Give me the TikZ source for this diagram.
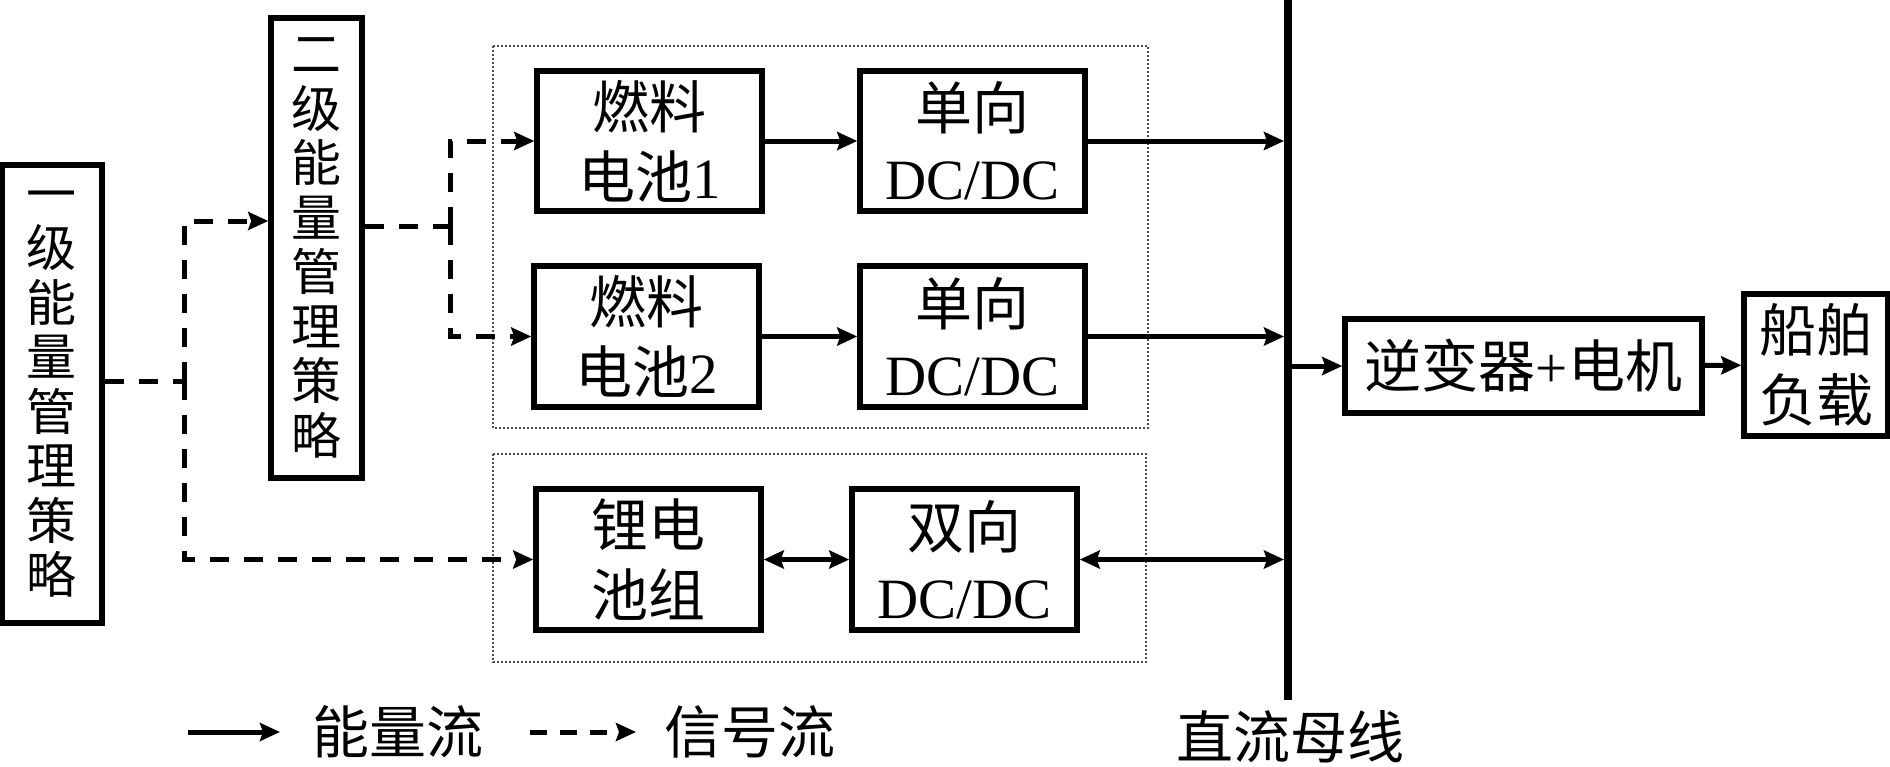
\documentclass[tikz,border=0pt]{standalone}
\usepackage{fontspec}
\setmainfont{Liberation Serif}
\newfontfamily\cjk{Noto Sans CJK SC}
\usetikzlibrary{arrows.meta,calc}
\begin{document}
\begin{tikzpicture}[x=1pt,y=-1pt,
  tipA/.tip={Stealth[length=20pt,width=18pt,inset=3pt]},
  box/.style={draw,line width=5.5pt,inner sep=0pt,align=center,font=\fontsize{57}{70}\selectfont},
  vbox/.style={draw,line width=5.5pt,inner sep=0pt,align=center,font=\fontsize{50}{54.5}\selectfont\cjk},
  grp/.style={draw=black!70,line width=2pt,dotted},
  pw/.style={line width=5pt,-tipA},
  pwb/.style={line width=5pt,tipA-tipA},
  sig/.style={line width=5pt,dash pattern=on 19pt off 15pt},
  sigA/.style={sig,-tipA},
  lbl/.style={inner sep=0pt,font=\fontsize{57}{69}\selectfont\cjk}]
\useasboundingbox (0,0) rectangle (1890,766);
% groups
\draw[grp] (493,46) rectangle (1148,428);
\draw[grp] (493,454) rectangle (1146,662);
% boxes
\node[vbox,minimum width=100pt,minimum height=458pt] (l1) at (52,394) {一\\级\\能\\量\\管\\理\\策\\略};
\node[vbox,minimum width=91pt,minimum height=460pt] (l2) at (316.5,248) {二\\级\\能\\量\\管\\理\\策\\略};
\node[box,minimum width=225pt,minimum height=140pt] (fc1) at (649.5,141) {{\cjk 燃料}\\{\cjk 电池}1};
\node[box,minimum width=225pt,minimum height=140pt] (dc1) at (972.5,141) {{\cjk 单向}\\DC/DC};
\node[box,minimum width=225pt,minimum height=141pt] (fc2) at (646.5,336.5) {{\cjk 燃料}\\{\cjk 电池}2};
\node[box,minimum width=225pt,minimum height=141pt] (dc2) at (972.5,336.5) {{\cjk 单向}\\DC/DC};
\node[box,minimum width=225pt,minimum height=141pt] (li) at (648.5,559.5) {{\cjk 锂电}\\{\cjk 池组}};
\node[box,minimum width=225pt,minimum height=141pt] (bd) at (964.5,559.5) {{\cjk 双向}\\DC/DC};
\node[box,minimum width=357pt,minimum height=94pt] (inv) at (1523.5,366) {{\cjk 逆变器}+{\cjk 电机}};
\node[box,minimum width=144pt,minimum height=142pt] (load) at (1816,365) {{\cjk 船舶}\\{\cjk 负载}};
% bus
\coordinate (busT) at (1288,0);
\coordinate (busB) at (1288,700);
\draw[line width=8.5pt] (busT) -- (busB);
\node[lbl] (busl) at (1290,737) {直流母线};
% power flows
\draw[pw] (fc1) -- (dc1);
\draw[pw] (fc2) -- (dc2);
\draw[pwb] (li) -- (bd);
\draw[pw,shorten >=4pt] (dc1.east) -- (dc1.east -| busT);
\draw[pw,shorten >=4pt] (dc2.east) -- (dc2.east -| busT);
\draw[pwb,shorten >=4pt] (bd.east) -- (bd.east -| busT);
\draw[pw,shorten <=4pt] (inv.west -| busT) -- (inv.west);
\draw[pw] (inv) -- (load);
% signal flows
\coordinate (s1) at (184,381);
\coordinate (s3) at (450,226);
\draw[sig] ([yshift=13pt]l1.east) -- (s1);
\draw[sigA] (s1) |- ([yshift=27pt]l2.west);
\draw[sigA] (s1) |- (li.west);
\draw[sig] ([yshift=22pt]l2.east) -- (s3);
\draw[sigA] (s3) |- (fc1.west);
\draw[sigA] (s3) |- (fc2.west);
% legend
\coordinate (g1) at (188,732);
\coordinate (g2) at (280,732);
\coordinate (g3) at (530,732);
\coordinate (g4) at (636,732);
\draw[pw] (g1) -- (g2);
\node[lbl] (t1) at (398,732) {能量流};
\draw[sig,dash pattern=on 17pt off 13pt,-tipA] (g3) -- (g4);
\node[lbl] (t2) at (750,732) {信号流};
\end{tikzpicture}
\end{document}
